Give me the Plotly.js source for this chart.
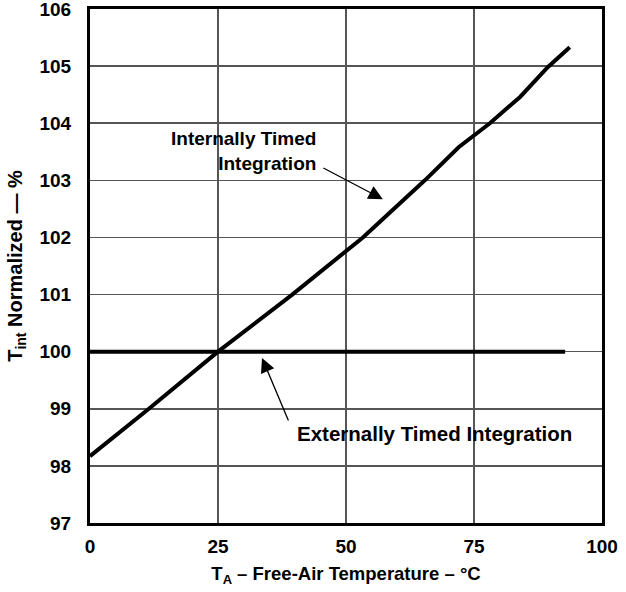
<!DOCTYPE html>
<html><head><meta charset="utf-8">
<script src="https://cdn.plot.ly/plotly-3.0.1.min.js"></script>
<style>body{margin:0;background:#fff}#c{width:626px;height:592px}</style>
</head><body><div id="c"></div>
<script>
const intX = [0, 11.5, 25, 39.5, 53.3, 65.4, 72, 78.1, 84, 89.4, 93.7];
const intY = [98.17, 99.0, 100.0, 101.0, 102.0, 103.0, 103.58, 104.0, 104.46, 104.98, 105.33];
const extX = [0, 92.8];
const extY = [100, 100];
const xTicks = [0, 25, 50, 75, 100];
const yTicks = [97, 98, 99, 100, 101, 102, 103, 104, 105, 106];

const F = 'Liberation Sans, Arial, Helvetica, sans-serif';
const traces = [
  {x: intX, y: intY, mode: 'lines', line: {color: '#000', width: 4}, hoverinfo: 'skip', cliponaxis: false},
  {x: extX, y: extY, mode: 'lines', line: {color: '#000', width: 4}, hoverinfo: 'skip'}
];
const layout = {
  width: 626, height: 592,
  margin: {l: 90, r: 24, t: 9, b: 69},
  showlegend: false,
  paper_bgcolor: '#fff', plot_bgcolor: '#fff',
  font: {family: F, color: '#000', size: 19},
  xaxis: {
    range: [0, 100], tickvals: xTicks, ticktext: xTicks.map(String),
    showgrid: true, gridcolor: '#555', gridwidth: 1.5,
    showline: true, linecolor: '#000', linewidth: 3, mirror: true,
    zeroline: false, ticks: '', ticklen: 0, ticklabeloverflow: 'allow', ticklabelstandoff: 4,
    tickfont: {family: F, size: 19, weight: 'bold'},
    title: {text: 'T<sub>A</sub> – Free-Air Temperature – °C', font: {family: F, size: 18.5, weight: 'bold'}, standoff: 12}
  },
  yaxis: {
    range: [97, 106], tickvals: yTicks, ticktext: yTicks.map(String),
    showgrid: true, gridcolor: '#555', gridwidth: 1.5,
    showline: true, linecolor: '#000', linewidth: 3, mirror: true,
    zeroline: false, ticks: '', ticklen: 0, ticklabeloverflow: 'allow', ticklabelstandoff: 12,
    tickfont: {family: F, size: 19, weight: 'bold'},
    title: {text: 'T<sub>int</sub> Normalized — %', font: {family: F, size: 20, weight: 'bold'}, standoff: 12}
  },
  annotations: [
    {x: 57.2, y: 102.67, xref: 'x', yref: 'y', ax: -61, ay: -32, text: '', showarrow: true,
     arrowhead: 2, arrowsize: 2.2, arrowwidth: 1.3, arrowcolor: '#000'},
    {x: 33.6, y: 99.89, xref: 'x', yref: 'y', ax: 27, ay: 64, text: '', showarrow: true,
     arrowhead: 2, arrowsize: 2.2, arrowwidth: 1.3, arrowcolor: '#000'},
    {x: 44.5, y: 103.51, xref: 'x', yref: 'y', xanchor: 'right', yanchor: 'middle', align: 'right',
     text: 'Internally Timed<br>Integration', showarrow: false,
     font: {family: F, size: 19, weight: 'bold', lineposition: 'none'}},
    {x: 40.0, y: 98.57, xref: 'x', yref: 'y', xanchor: 'left', yanchor: 'middle',
     text: 'Externally Timed Integration', showarrow: false,
     font: {family: F, size: 20.5, weight: 'bold'}}
  ]
};
Plotly.newPlot('c', traces, layout, {displayModeBar: false, staticPlot: true});
</script></body></html>
